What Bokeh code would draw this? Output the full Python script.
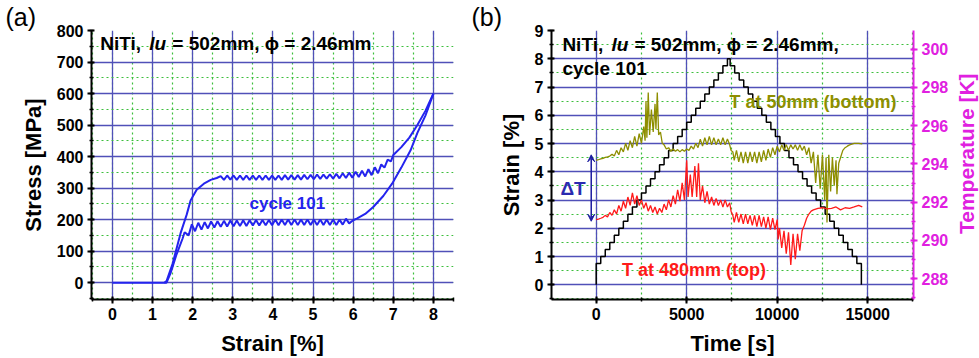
import math
from bokeh.plotting import figure
from bokeh.models import (Range1d, LinearAxis, SingleIntervalTicker, Label,
                          Arrow, VeeHead, Title)
from bokeh.layouts import row
from bokeh.embed import file_html
from bokeh.resources import INLINE

FONT = "Liberation Sans"

# ---------------- Panel (a): stress-strain, cycle 101 ----------------
load_strain = [0, 1.3, 1.35, 1.5, 1.7, 1.85, 1.95, 2.1, 2.28, 2.45, 2.6,
               2.70, 2.78, 2.86, 2.94, 3.02, 3.10, 3.18, 3.26, 3.34, 3.42,
               3.50, 3.58, 3.66, 3.74, 3.82, 3.90, 3.98, 4.06, 4.14, 4.22,
               4.30, 4.38, 4.46, 4.54, 4.62, 4.70, 4.78, 4.86, 4.94, 5.02,
               5.10, 5.18, 5.26, 5.34, 5.42, 5.50, 5.58, 5.66, 5.74, 5.82,
               5.90, 5.98, 6.06, 6.14, 6.22, 6.30, 6.38, 6.46, 6.54, 6.62,
               6.70, 6.78, 6.86, 6.94, 7.0, 7.2, 7.4, 7.6, 7.8, 8.0]
load_stress = [0, 0, 5, 60, 157, 215, 261, 295, 314, 326, 332,
               338, 326, 340, 327, 340, 326, 340, 326, 340, 326,
               340, 326, 340, 326, 340, 326, 340, 326, 340, 326,
               341, 327, 341, 327, 341, 327, 342, 328, 342, 328,
               343, 329, 343, 330, 344, 330, 345, 331, 347, 332,
               349, 333, 352, 335, 355, 337, 360, 341, 366, 347,
               375, 365, 390, 385, 405, 430, 460, 500, 545, 600]

unload_strain = [8.0, 7.8, 7.6, 7.43, 7.2, 6.97, 6.75, 6.5, 6.3, 6.1, 6.0,
                 5.90, 5.82, 5.74, 5.66, 5.58, 5.50, 5.42, 5.34, 5.26, 5.18,
                 5.10, 5.02, 4.94, 4.86, 4.78, 4.70, 4.62, 4.54, 4.46, 4.38,
                 4.30, 4.22, 4.14, 4.06, 3.98, 3.90, 3.82, 3.74, 3.66, 3.58,
                 3.50, 3.42, 3.34, 3.26, 3.18, 3.10, 3.02, 2.94, 2.86, 2.78,
                 2.70, 2.62, 2.54, 2.46, 2.38, 2.30, 2.22, 2.14, 2.06, 1.98,
                 1.90, 1.80, 1.75, 1.6, 1.45, 1.35, 1.3]
unload_stress = [600, 530, 475, 420, 365, 314, 275, 240, 218, 204, 198,
                 188, 203, 184, 200, 183, 200, 183, 200, 183, 200,
                 183, 200, 183, 200, 183, 200, 183, 200, 183, 200,
                 183, 200, 182, 200, 182, 199, 182, 199, 181, 199,
                 181, 198, 180, 198, 180, 197, 179, 197, 178, 196,
                 177, 195, 175, 194, 172, 192, 168, 190, 163, 185,
                 150, 160, 140, 90, 30, 0, 0]

# ---------------- Panel (b): strain staircase + temperatures ----------------
step_time = [0, 0, 250, 500, 750, 1000, 1250, 1500, 1750, 2000,
             2250, 2500, 2750, 3000, 3250, 3500, 3750, 4000, 4250, 4500,
             4750, 5000, 5250, 5500, 5750, 6000, 6250, 6500, 6750, 7000,
             7250,
             7400, 7650, 7900, 8150, 8400, 8650, 8900, 9150, 9400, 9650,
             9900, 10150, 10400, 10650, 10900, 11150, 11400, 11650, 11900, 12150,
             12400, 12650, 12900, 13150, 13400, 13650, 13900, 14150, 14400, 14650]
step_strain = [0, 0.75, 1.0, 1.25, 1.5, 1.75, 2.0, 2.25, 2.5, 2.75,
               3.0, 3.25, 3.5, 3.75, 4.0, 4.25, 4.5, 4.75, 5.0, 5.25,
               5.5, 5.75, 6.0, 6.25, 6.5, 6.75, 7.0, 7.25, 7.5, 7.75,
               8.0,
               7.75, 7.5, 7.25, 7.0, 6.75, 6.5, 6.25, 6.0, 5.75, 5.5,
               5.25, 5.0, 4.75, 4.5, 4.25, 4.0, 3.75, 3.5, 3.25, 3.0,
               2.75, 2.5, 2.25, 2.0, 1.75, 1.5, 1.25, 1.0, 0.75, 0]

bottom_time = [0, 125, 250, 375, 500, 625, 750, 875, 1000, 1125,
               1250, 1375, 1500, 1625, 1750, 1875, 2000, 2125, 2250, 2375,
               2500, 2625, 2700, 2750, 2800, 2875, 2950, 3050, 3150, 3250,
               3300, 3375, 3450, 3550, 3650, 3750, 3875, 4000, 4125, 4250,
               4375, 4500, 4625, 4750, 4875, 5000, 5125, 5250, 5375, 5500,
               5625, 5750, 5875, 6000, 6125, 6250, 6375, 6500, 6625, 6750,
               6875, 7000, 7125, 7250, 7375, 7450, 7550, 7625, 7750, 7875,
               8000, 8125, 8250, 8375, 8500, 8625, 8750, 8875, 9000, 9125,
               9250, 9375, 9500, 9625, 9750, 9875, 10000, 10125, 10250, 10375,
               10500, 10625, 10750, 10875, 11000, 11125, 11250, 11375, 11500, 11625,
               11750, 11875, 12000, 12125, 12250, 12375, 12500, 12625, 12700, 12750,
               12850, 12950, 13050, 13150, 13250, 13300, 13400, 13500, 13625, 13750,
               13875, 14000, 14250, 14500, 14700]
bottom_temp = [294.19, 294.22, 294.26, 294.29, 294.34, 294.37, 294.41, 294.51, 294.41, 294.71,
               294.48, 294.85, 294.63, 295.08, 294.71, 295.22, 294.85, 295.44, 294.93, 295.59,
               295.08, 295.96, 295.22, 297.29, 295.37, 297.73, 295.52, 296.85, 295.67, 297.14,
               295.81, 297.73, 295.52, 295.67, 295.08, 295.00, 294.78, 294.85, 294.66, 294.78,
               294.66, 294.75, 294.63, 294.75, 294.66, 294.78, 294.71, 294.93, 294.78, 295.08,
               294.85, 295.30, 294.93, 295.37, 295.00, 295.44, 295.00, 295.37, 295.00, 295.30,
               295.00, 295.37, 295.00, 295.30, 295.00, 294.71, 294.63, 294.19, 294.71, 294.11,
               294.63, 294.04, 294.63, 294.04, 294.63, 294.11, 294.63, 294.04, 294.63, 294.11,
               294.71, 294.19, 294.78, 294.34, 294.85, 294.48, 294.93, 294.63, 295.00, 294.71,
               295.00, 294.71, 295.00, 294.78, 295.00, 294.71, 295.00, 294.71, 294.93, 294.48,
               294.85, 294.04, 294.63, 293.01, 294.48, 292.71, 294.48, 292.12, 294.34, 290.94,
               294.48, 292.56, 294.34, 292.86, 294.19, 292.42, 294.04, 294.34, 294.71, 294.85,
               294.93, 295.00, 295.08, 295.08, 295.05]

top_time = [0, 125, 250, 375, 500, 625, 750, 875, 1000, 1125,
            1250, 1375, 1500, 1625, 1750, 1875, 2000, 2125, 2250, 2375,
            2500, 2625, 2750, 2875, 3000, 3125, 3250, 3375, 3500, 3625,
            3750, 3875, 4000, 4125, 4250, 4375, 4500, 4625, 4750, 4875,
            5000, 5075, 5200, 5300, 5450, 5550, 5650, 5750, 5875, 6000,
            6125, 6250, 6375, 6500, 6625, 6750, 6875, 7000, 7125, 7250,
            7375, 7450, 7550, 7625, 7750, 7875, 8000, 8125, 8250, 8375,
            8500, 8625, 8750, 8875, 9000, 9125, 9250, 9375, 9500, 9625,
            9750, 9875, 10000, 10050, 10125, 10250, 10375, 10500, 10625, 10750,
            10875, 11000, 11125, 11250, 11375, 11500, 11625, 11750, 11875, 12000,
            12250, 12500, 12750, 13000, 13250, 13500, 13750, 14000, 14250, 14500,
            14700]
top_temp = [291.09, 291.12, 291.16, 291.21, 291.31, 291.23, 291.46, 291.31, 291.60, 291.38,
            291.83, 291.53, 292.05, 291.68, 292.27, 291.83, 292.49, 291.90, 292.34, 291.83,
            292.12, 291.68, 291.97, 291.53, 291.83, 291.46, 291.75, 291.38, 291.68, 291.46,
            291.90, 291.60, 292.12, 291.75, 292.34, 291.90, 292.64, 292.05, 293.01, 292.12,
            294.19, 292.27, 293.45, 292.27, 293.89, 292.27, 294.04, 292.12, 292.86, 291.97,
            292.56, 291.90, 292.27, 291.83, 292.19, 291.83, 292.12, 291.75, 292.12, 291.75,
            291.97, 291.53, 291.31, 290.94, 291.46, 290.94, 291.38, 290.87, 291.38, 290.87,
            291.31, 290.79, 291.31, 290.72, 291.31, 290.72, 291.23, 290.64, 291.23, 290.57,
            291.16, 290.57, 291.09, 290.05, 290.64, 289.61, 290.50, 289.31, 290.42, 288.72,
            290.35, 289.02, 290.35, 289.46, 290.50, 290.79, 291.16, 291.38, 291.53, 291.60,
            291.68, 291.71, 291.65, 291.68, 291.75, 291.60, 291.71, 291.68, 291.75, 291.83,
            291.75]

BLUE_GRID = "#5050b8"
GREEN_GRID = "#3cbf3c"
MAGENTA = "#e020e0"
OLIVE = "#8e8e00"
RED = "#ff1a1a"
CURVE_BLUE = "#2424ee"


def style_axis(ax, color="black"):
    ax.axis_line_width = 2
    ax.axis_line_color = color
    ax.major_tick_line_color = color
    ax.major_tick_line_width = 2
    ax.minor_tick_line_color = color
    ax.minor_tick_line_width = 1.5
    ax.major_tick_in = 3
    ax.major_tick_out = 4
    ax.minor_tick_in = 2
    ax.minor_tick_out = 2
    ax.major_label_text_font = FONT
    ax.major_label_text_font_size = "16px"
    ax.major_label_text_font_style = "bold"
    ax.major_label_text_color = color
    ax.major_label_standoff = 4
    ax.axis_label_text_font = FONT
    ax.axis_label_text_font_size = "22px"
    ax.axis_label_text_font_style = "bold"
    ax.axis_label_text_color = color
    ax.axis_label_standoff = 8


def style_grid(p):
    for g in (p.xgrid[0], p.ygrid[0]):
        g.grid_line_color = BLUE_GRID
        g.grid_line_width = 1.3
        g.minor_grid_line_color = GREEN_GRID
        g.minor_grid_line_width = 1.2
        g.minor_grid_line_dash = "2 3"


def text(p, x, y, s, size, color="black", style="bold", xoff=0, **kw):
    p.add_layout(Label(x=x, y=y, x_offset=xoff, text=s, text_font=FONT,
                       text_font_size=size, text_font_style=style,
                       text_color=color, text_baseline="middle", **kw))


def panel_tag(p, s, offset):
    p.add_layout(Title(text=s, align="left", offset=offset, text_font=FONT,
                       text_font_size="25px", text_font_style="normal",
                       text_color="black", standoff=0), "above")


# ---------- figure (a) ----------
pa = figure(width=470, height=358, x_range=Range1d(-0.52, 8.5),
            y_range=Range1d(-53.5, 800), output_backend="svg",
            toolbar_location=None, min_border_left=91, min_border_right=17,
            min_border_top=29, min_border_bottom=58)
pa.outline_line_color = None
xt_a = SingleIntervalTicker(interval=1, num_minor_ticks=2)
yt_a = SingleIntervalTicker(interval=100, num_minor_ticks=2)
pa.xaxis.ticker = xt_a
pa.yaxis.ticker = yt_a
pa.xgrid[0].ticker = xt_a
pa.ygrid[0].ticker = yt_a
pa.xaxis.axis_label = "Strain [%]"
pa.yaxis.axis_label = "Stress [MPa]"
style_axis(pa.xaxis[0])
style_axis(pa.yaxis[0])
style_grid(pa)

pa.line(load_strain, load_stress, line_color=CURVE_BLUE, line_width=2)
pa.line(unload_strain, unload_stress, line_color=CURVE_BLUE, line_width=2)

panel_tag(pa, "(a)", -86)
title_y = 759
text(pa, -0.3, title_y, "NiTi,", "19px")
text(pa, -0.3, title_y, "lu", "19px", style="bold italic", xoff=49)
text(pa, -0.3, title_y, "= 502mm, ϕ = 2.46mm", "19px", xoff=72)
text(pa, 4.36, 252, "cycle 101", "17px", color=CURVE_BLUE, text_align="center")

# ---------- figure (b) ----------
pb = figure(width=481, height=358, x_range=Range1d(-2470, 17530),
            y_range=Range1d(-0.52, 9.0), output_backend="svg",
            toolbar_location=None, min_border_left=81, min_border_right=36,
            min_border_top=28, min_border_bottom=58)
pb.outline_line_color = None
pb.extra_y_ranges = {"temp": Range1d(286.91, 300.98)}
xt_b = SingleIntervalTicker(interval=5000, num_minor_ticks=2)
yt_b = SingleIntervalTicker(interval=1, num_minor_ticks=2)
pb.xaxis.ticker = xt_b
pb.yaxis.ticker = yt_b
pb.xgrid[0].ticker = xt_b
pb.ygrid[0].ticker = yt_b
pb.xaxis.axis_label = "Time [s]"
pb.yaxis.axis_label = "Strain [%]"
style_axis(pb.xaxis[0])
style_axis(pb.yaxis[0])
style_grid(pb)

t_axis = LinearAxis(y_range_name="temp",
                    ticker=SingleIntervalTicker(interval=2, num_minor_ticks=2))
style_axis(t_axis, MAGENTA)
pb.add_layout(t_axis, "right")

pb.step(step_time, step_strain, mode="after", line_color="black", line_width=1.5)
pb.line(bottom_time, bottom_temp, y_range_name="temp", line_color=OLIVE,
        line_width=1.3)
pb.line(top_time, top_temp, y_range_name="temp", line_color=RED,
        line_width=1.3)

pb.add_layout(Arrow(start=VeeHead(size=7, line_color="#1c1ca0", fill_color="#1c1ca0"),
                    end=VeeHead(size=7, line_color="#1c1ca0", fill_color="#1c1ca0"),
                    x_start=-275, y_start=2.25, x_end=-275, y_end=4.6,
                    line_color="#1c1ca0", line_width=1.5))
text(pb, -1978, 3.4, "ΔT", "19px", color="#2a2ab0")
panel_tag(pb, "(b)", -80)
tb_y = 8.51
text(pb, -1868, tb_y, "NiTi,", "19px")
text(pb, -1868, tb_y, "lu", "19px", style="bold italic", xoff=49)
text(pb, -1868, tb_y, "= 502mm, ϕ = 2.46mm,", "19px", xoff=72)
text(pb, -1868, 7.67, "cycle 101", "19px")
text(pb, 7363, 6.48, "T at 50mm (bottom)", "18px", color=OLIVE)
text(pb, 1429, 0.53, "T at 480mm (top)", "18px", color=RED)

# ---------- narrow strip carrying the right-axis title (reads upward) ----------
pc = figure(width=28, height=358, x_range=Range1d(0, 28), y_range=Range1d(0, 358),
            output_backend="svg", toolbar_location=None,
            x_axis_location=None, y_axis_location=None,
            min_border_left=0, min_border_right=0, min_border_top=0,
            min_border_bottom=0)
pc.outline_line_color = None
pc.xgrid.visible = False
pc.ygrid.visible = False
text(pc, 15, 194, "Temperature [K]", "21px", color=MAGENTA,
     text_align="center", angle=math.pi / 2)

layout = row(pa, pb, pc)
open("out.html", "w").write(file_html(layout, INLINE))
